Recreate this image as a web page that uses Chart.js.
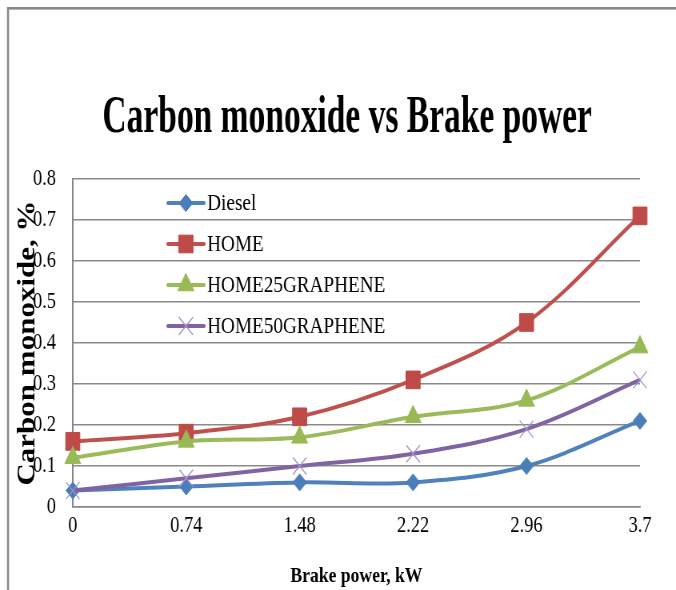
<!DOCTYPE html>
<html>
<head>
<meta charset="utf-8">
<script src="https://cdn.jsdelivr.net/npm/chart.js@4/dist/chart.umd.min.js"></script>
<style>
  html, body { margin: 0; padding: 0; background: #fff; }
  #wrap { width: 676px; height: 590px; overflow: hidden; position: relative; }
  #c { position: absolute; left: 0; top: 0; transform: scaleX(0.8); transform-origin: 0 0; }
</style>
</head>
<body>
<div id="wrap"><canvas id="c" width="845" height="590"></canvas></div>
<script>
// ---- data ----
const TITLE = 'Carbon monoxide vs Brake power';
const X_TITLE = 'Brake power, kW';
const Y_TITLE = 'Carbon monoxide, %';
const CATEGORIES = ['0', '0.74', '1.48', '2.22', '2.96', '3.7'];
const SERIES_NAMES = ['Diesel', 'HOME', 'HOME25GRAPHENE', 'HOME50GRAPHENE'];
const DIESEL = [0.04, 0.05, 0.06, 0.06, 0.10, 0.21];
const HOME = [0.16, 0.18, 0.22, 0.31, 0.45, 0.71];
const HOME25GRAPHENE = [0.12, 0.16, 0.17, 0.22, 0.26, 0.39];
const HOME50GRAPHENE = [0.04, 0.07, 0.10, 0.13, 0.19, 0.31];
const Y_MIN = 0, Y_MAX = 0.8, Y_STEP = 0.1;

const FONT = '"Liberation Serif", "Times New Roman", serif';

const styles = [
  { line: '#4F81BD', point: '#4A7EBB', pointStyle: 'rectRot', radius: 8.5, pbw: 1, order: 4 },
  { line: '#C0504D', point: '#BE4B48', pointStyle: 'rect', radius: 12.5, pbw: 1, order: 3 },
  { line: '#9BBB59', point: '#98B954', pointStyle: 'triangle', radius: 11.5, pbw: 1, order: 2 },
  { line: '#8064A2', point: '#A294C9', pointStyle: 'crossRot', radius: 12, pbw: 1.3, order: 1 }
];
const values = [DIESEL, HOME, HOME25GRAPHENE, HOME50GRAPHENE];

const datasets = SERIES_NAMES.map((name, i) => ({
  label: name,
  data: values[i],
  borderColor: styles[i].line,
  backgroundColor: styles[i].point,
  borderWidth: 4,
  tension: 0.35,
  pointStyle: styles[i].pointStyle,
  pointRadius: styles[i].radius,
  pointBackgroundColor: styles[i].point,
  pointBorderColor: styles[i].point,
  pointBorderWidth: styles[i].pbw,
  order: styles[i].order
}));

const framePlugin = {
  id: 'frame',
  beforeDraw(chart) {
    const ctx = chart.ctx;
    ctx.save();
    ctx.fillStyle = '#ffffff';
    ctx.fillRect(0, 0, chart.width, chart.height);
    ctx.fillStyle = '#878787';
    ctx.fillRect(8.8, 7, chart.width, 2);
    ctx.fillRect(8.8, 7, 2.5, chart.height);
    ctx.fillStyle = '#b5b5b5';
    ctx.fillRect(11.3, 9, chart.width, 1);
    ctx.restore();
  }
};

const titlePlugin = {
  id: 'condensedTitle',
  afterDraw(chart) {
    const ctx = chart.ctx;
    ctx.save();
    ctx.font = 'bold 53px ' + FONT;
    ctx.fillStyle = '#000';
    ctx.textAlign = 'center';
    ctx.textBaseline = 'alphabetic';
    ctx.translate(434, 132);
    ctx.scale(0.79, 1);
    ctx.fillText(TITLE, 0, 0);
    ctx.restore();
  }
};

const legendPlugin = {
  id: 'innerLegend',
  afterDraw(chart) {
    const ctx = chart.ctx;
    const y0 = 203, dy = 41;
    chart.data.datasets.forEach((ds, i) => {
      const y = y0 + i * dy;
      ctx.save();
      ctx.strokeStyle = ds.borderColor;
      ctx.lineWidth = 4;
      ctx.lineCap = 'round';
      ctx.beginPath();
      ctx.moveTo(210, y);
      ctx.lineTo(255, y);
      ctx.stroke();
      ctx.fillStyle = ds.pointBackgroundColor;
      ctx.strokeStyle = ds.pointBorderColor;
      ctx.lineWidth = ds.pointBorderWidth;
      Chart.helpers.drawPoint(ctx, {
        pointStyle: ds.pointStyle,
        radius: ds.pointRadius,
        rotation: 0,
        borderWidth: ds.pointBorderWidth
      }, 232.5, y);
      ctx.restore();
      ctx.save();
      ctx.font = '24px ' + FONT;
      ctx.fillStyle = '#000';
      ctx.textAlign = 'left';
      ctx.textBaseline = 'middle';
      ctx.fillText(ds.label, 259, y + 1);
      ctx.restore();
    });
  }
};

new Chart(document.getElementById('c'), {
  type: 'line',
  data: { labels: CATEGORIES, datasets },
  options: {
    responsive: false,
    animation: false,
    devicePixelRatio: 1,
    layout: { padding: { left: 0, top: 179, right: 45, bottom: 0 } },
    plugins: {
      legend: { display: false },
      title: { display: false, text: TITLE },
      tooltip: { enabled: false }
    },
    scales: {
      x: {
        type: 'category',
        offset: false,
        grid: { display: false, drawTicks: false },
        border: { display: true, color: '#888888', width: 1.5 },
        ticks: {
          color: '#000',
          font: { family: FONT, size: 23 },
          padding: 5,
          maxRotation: 0,
          autoSkip: false
        },
        title: {
          display: true,
          text: X_TITLE,
          color: '#000',
          font: { family: FONT, size: 22, weight: 'bold' },
          padding: { top: 0, bottom: 0 }
        },
        afterFit(scale) { scale.height = 83; }
      },
      y: {
        min: Y_MIN,
        max: Y_MAX,
        grid: { color: '#8a8a8a', lineWidth: 1.5, drawTicks: false },
        border: { display: true, color: '#888888', width: 2 },
        ticks: {
          stepSize: Y_STEP,
          color: '#000',
          font: { family: FONT, size: 23 },
          padding: 21,
          callback: v => String(Math.round(v * 10) / 10)
        },
        title: {
          display: true,
          text: Y_TITLE,
          color: '#000',
          font: { family: FONT, size: 31, weight: 'bold' },
          padding: { top: 16, bottom: 0 }
        },
        afterFit(scale) { scale.width = 91; }
      }
    }
  },
  plugins: [framePlugin, titlePlugin, legendPlugin]
});
</script>
</body>
</html>
